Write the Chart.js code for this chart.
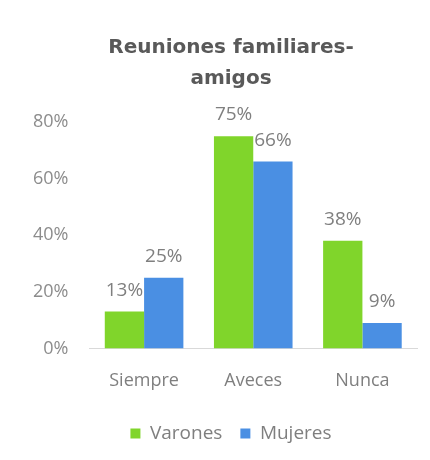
<!DOCTYPE html>
<html>
<head>
<meta charset="utf-8">
<script src="https://cdn.jsdelivr.net/npm/chart.js@4"></script>
<style>
  body { margin: 0; background: #fff; }
</style>
</head>
<body>
<canvas id="myChart" width="430" height="460"></canvas>
<script>
const categories = ["Siempre", "Aveces", "Nunca"];
const varones = [13, 75, 38];
const mujeres = [25, 66, 9];
const yTicks = [0, 20, 40, 60, 80];

// labels drawn above each bar
const barLabels = {
    id: "barLabels",
    afterDatasetsDraw(chart) {
        const ctx = chart.ctx;
        ctx.save();
        ctx.font = "19px 'Open Sans'";
        ctx.fillStyle = "#7f7f7f";
        ctx.textAlign = "center";
        ctx.textBaseline = "bottom";
        chart.data.datasets.forEach((ds, i) => {
            chart.getDatasetMeta(i).data.forEach((bar, j) => {
                ctx.fillText(ds.data[j] + "%", bar.x, bar.y - 12);
            });
        });
        ctx.restore();
    },
};

const ctx = document.getElementById("myChart");

new Chart(ctx, {
    type: "bar",
    data: {
        labels: categories,
        datasets: [
            {
                label: "Varones",
                data: varones,
                backgroundColor: "#80d52b",
                categoryPercentage: 0.72,
                barPercentage: 1.0,
            },
            {
                label: "Mujeres",
                data: mujeres,
                backgroundColor: "#4a8fe3",
                categoryPercentage: 0.72,
                barPercentage: 1.0,
            },
        ],
    },
    options: {
        responsive: false,
        animation: false,
        layout: {
            padding: { left: 45, right: 13, top: 0, bottom: 7 },
        },
        plugins: {
            title: {
                display: true,
                text: ["Reuniones familiares-", "amigos"],
                color: "#595959",
                font: { family: "'DejaVu Sans'", size: 20, weight: "bold", lineHeight: 1.55 },
                padding: { top: 32, bottom: 28 },
            },
            legend: {
                position: "bottom",
                labels: {
                    color: "#7f7f7f",
                    font: { family: "'Open Sans'", size: 19 },
                    boxWidth: 10,
                    boxHeight: 10,
                    padding: 18,
                },
            },
            tooltip: { enabled: false },
        },
        scales: {
            x: {
                grid: { display: false },
                border: { display: true, color: "#d9d9d9" },
                ticks: {
                    color: "#7f7f7f",
                    font: { family: "'Open Sans'", size: 18 },
                    padding: 14,
                },
            },
            y: {
                min: 0,
                max: 80,
                grid: { display: false, drawTicks: false },
                border: { display: false },
                afterBuildTicks(axis) {
                    axis.ticks = yTicks.map((v) => ({ value: v }));
                },
                afterFit(axis) {
                    axis.width = 44.5;
                    // labels reach left of the padded box, don't clip them
                    axis._computeLabelArea = () => undefined;
                },
                ticks: {
                    color: "#8c8c8c",
                    font: { family: "'Open Sans'", size: 18 },
                    padding: 21,
                    callback: (v) => v + "%",
                },
            },
        },
    },
    plugins: [barLabels],
});
</script>
</body>
</html>
